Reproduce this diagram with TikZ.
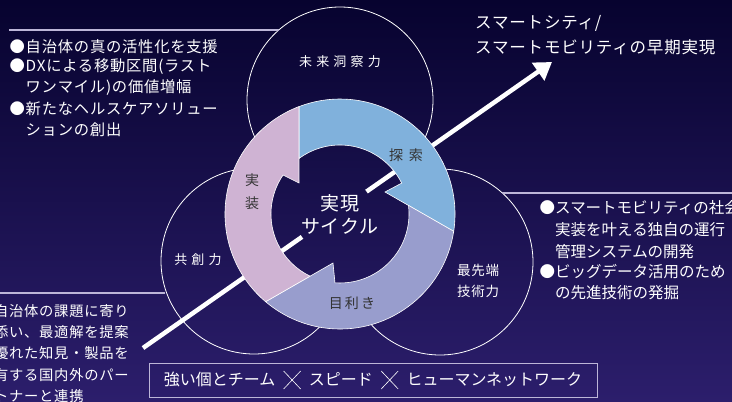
\documentclass[tikz,border=0pt]{standalone}
\usepackage{fontspec}
\usetikzlibrary{arrows.meta}
\newfontfamily\jp{Noto Sans CJK JP}
\newfontfamily\jpls[LetterSpace=5]{Noto Sans CJK JP}
\newfontfamily\jpmid[LetterSpace=15]{Noto Sans CJK JP}
\newfontfamily\jpwide[LetterSpace=32]{Noto Sans CJK JP}
\definecolor{bgtop}{HTML}{07032F}
\definecolor{bgbot}{HTML}{2C1E6C}
\definecolor{holetop}{HTML}{140D45}
\definecolor{holebot}{HTML}{21165A}
\definecolor{pinkseg}{HTML}{CFB3D3}
\definecolor{blueseg}{HTML}{80B1DC}
\definecolor{purpseg}{HTML}{989DCD}
\definecolor{rulec}{HTML}{BDB6D8}
\definecolor{ringtxt}{HTML}{333333}
\newcommand\bigcross{\tikz[baseline=0pt]\draw[white,line width=0.6pt] (0pt,-3.5pt)--(17pt,14.5pt) (0pt,14.5pt)--(17pt,-3.5pt);}
\tikzset{
  lst/.style={text=white, anchor=west, inner sep=0pt, font=\jpls\fontsize{15.3}{18}\selectfont},
  lstr/.style={text=white, anchor=west, inner sep=0pt, font=\jp\fontsize{15.5}{18}\selectfont},
  lstsmall/.style={text=white, anchor=west, inner sep=0pt, font=\jpls\fontsize{14.3}{18}\selectfont},
  goal/.style={text=white, anchor=west, inner sep=0pt, font=\jpls\fontsize{16.5}{20}\selectfont},
  circlab/.style={text=white, inner sep=0pt, font=\jpwide\fontsize{13}{16}\selectfont},
  circlabb/.style={text=white, inner sep=0pt, anchor=west, font=\jpls\fontsize{13.5}{16}\selectfont},
  ringlab/.style={text=ringtxt, inner sep=0pt, font=\jpmid\fontsize{14}{16}\selectfont},
  centlab/.style={text=white, inner sep=0pt, font=\jpls\fontsize{19}{22}\selectfont},
  bigcirc/.style={draw=white, line width=0.8pt},
  rulel/.style={draw=rulec, line width=1.1pt},
  seg/.style={draw=white, line width=0.6pt},
  mainline/.style={draw=white, line width=4.5pt}
}
\begin{document}
\begin{tikzpicture}[x=1pt,y=-1pt]
\useasboundingbox (0,0) rectangle (732,402);
\clip (0,0) rectangle (732,402);
\shade[top color=bgtop, bottom color=bgbot] (0,0) rectangle (732,402);

% three capability circles
\coordinate (ctop) at (340,100);
\coordinate (cleft) at (254,261);
\coordinate (cright) at (440,262);
\draw[bigcirc] (ctop) circle[radius=93];
\draw[bigcirc] (cleft) circle[radius=93];
\draw[bigcirc] (cright) circle[radius=93];

% rules to the lists
\coordinate (r1a) at (9,30);
\coordinate (r1b) at (278.8,30);
\draw[rulel] (r1a) -- (r1b);
\coordinate (r2a) at (502.4,193);
\coordinate (r2b) at (732,193);
\draw[rulel] (r2a) -- (r2b);
\coordinate (r3a) at (0,293);
\coordinate (r3b) at (165.3,293);
\draw[rulel] (r3a) -- (r3b);

% hole of the ring (hides the circle outlines)
\coordinate (rc) at (340,214);
\shade[top color=holetop, bottom color=holebot] (rc) circle[radius=70];

% main arrow
\coordinate (ls) at (143,348);
\coordinate (ga) at (302,236.9);
\coordinate (gb) at (366.5,191.6);
\coordinate (le) at (552,62);
\draw[mainline] (ls) -- (ga);
\draw[mainline, -{Triangle[length=17pt,width=21pt]}] (gb) -- (le);

% ring segments
\fill[blueseg, seg] (299,158.5) -- (299,106.6) arc[start angle=-110.9, end angle=8.65, radius=115]
  -- (385,192) -- (401.7,183.1) arc[start angle=-26.6, end angle=-126.5, radius=69] -- cycle;
\fill[purpseg, seg] (408.5,205.4) -- (453.7,231.3) arc[start angle=8.65, end angle=130.3, radius=115]
  -- (333,263) -- (334.95,282.8) arc[start angle=94.2, end angle=-7.16, radius=69] -- cycle;
\fill[pinkseg, seg] (310.05,276.2) -- (265.6,301.7) arc[start angle=130.3, end angle=249.1, radius=115]
  -- (299,183) -- (283.05,175.0) arc[start angle=214.4, end angle=115.7, radius=69] -- cycle;

% ring labels
\node[ringlab] (tansaku) at (406,155) {探\hspace{6pt}索};
\node[ringlab] (jis1) at (252,180) {実};
\node[ringlab] (jis2) at (252,203) {装};
\node[ringlab] (mekiki) at (352,303) {目利き};
\node[centlab] (cen1) at (340,203) {実現};
\node[centlab] (cen2) at (340,226) {サイクル};

% circle labels
\node[circlab] (mirai) at (340,62) {未来洞察力};
\node[circlab] (kyoso) at (198,260) {共創力};
\node[circlabb] (saisen1) at (457,270) {最先端};
\node[circlabb] (saisen2) at (457,291) {技術力};

% goal text
\node[goal] (goal1) at (475,23) {スマートシティ/};
\node[goal] (goal2) at (475,47) {スマートモビリティの早期実現};

% top-left list
\node[lst] (tl1) at (9.5,47) {●自治体の真の活性化を支援};
\node[lst] (tl2) at (9.5,67) {●DXによる移動区間(ラスト};
\node[lst] (tl3) at (25.5,87.5) {ワンマイル)の価値増幅};
\node[lst] (tl4) at (9.5,109) {●新たなヘルスケアソリュー};
\node[lst] (tl5) at (25.5,130) {ションの創出};

% right list
\node[lstr] (rl1) at (539.5,208) {●スマートモビリティの社会};
\node[lstr] (rl2) at (555,230) {実装を叶える独自の運行};
\node[lstr] (rl3) at (555,252) {管理システムの開発};
\node[lstr] (rl4) at (539.5,272) {●ビッグデータ活用のため};
\node[lstr] (rl5) at (555,293) {の先進技術の発掘};

% bottom-left list
\node[lstsmall] (bl1) at (-6,311) {自治体の課題に寄り};
\node[lstsmall] (bl2) at (-6,332) {添い、最適解を提案};
\node[lstsmall] (bl3) at (-6,353.5) {優れた知見・製品を};
\node[lstsmall] (bl4) at (-6,375) {有する国内外のパー};
\node[lstsmall] (bl5) at (-6,396) {トナーと連携};

% bottom box
\node[draw=rulec, line width=0.9pt, minimum width=448pt, minimum height=34pt, inner sep=0pt,
      text=white, font=\jp\fontsize{16}{18}\selectfont] (motto) at (373,380)
  {強い個とチーム\hspace{8pt}\bigcross\hspace{8pt}スピード\hspace{8pt}\bigcross\hspace{8pt}ヒューマンネットワーク};
\end{tikzpicture}
\end{document}
